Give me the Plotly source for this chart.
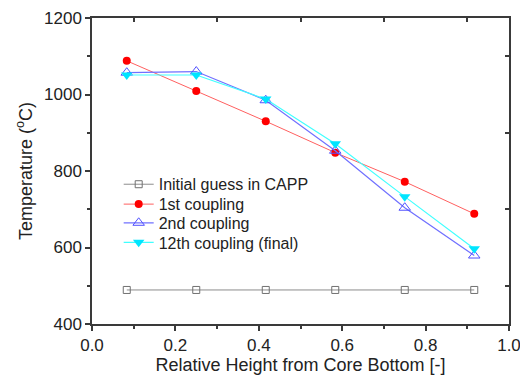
import plotly.graph_objects as go

x_pos = [1/12, 3/12, 5/12, 7/12, 9/12, 11/12]
initial_guess = [489, 489, 489, 489, 489, 489]
coupling_1st = [1088, 1009, 930, 848, 772, 688]
coupling_2nd = [1057, 1060, 985, 853, 704, 579]
coupling_12th = [1051, 1051, 988, 871, 733, 597]

names = ["Initial guess in CAPP", "1st coupling", "2nd coupling", "12th coupling (final)"]

FONT = "Liberation Sans, Arial, sans-serif"
AX = "#3a3a3a"

fig = go.Figure()
fig.add_trace(go.Scatter(x=x_pos, y=initial_guess, mode="lines+markers", name=names[0], legend="legend",
                         line=dict(color="#8c8c8c", width=1),
                         marker=dict(symbol="square-open", size=7, color="#707070", line=dict(width=1))))
fig.add_trace(go.Scatter(x=x_pos, y=coupling_1st, mode="lines+markers", name=names[1], legend="legend2",
                         line=dict(color="#ff6060", width=1),
                         marker=dict(symbol="circle", size=8, color="#ff0000")))
fig.add_trace(go.Scatter(x=x_pos, y=coupling_2nd, mode="lines+markers", name=names[2], legend="legend3",
                         line=dict(color="#7070ff", width=1.2),
                         marker=dict(symbol="triangle-up-open", size=10, color="#5050ff", line=dict(width=1))))
fig.add_trace(go.Scatter(x=x_pos, y=coupling_12th, mode="lines+markers", name=names[3], legend="legend4",
                         line=dict(color="#40ffff", width=1.2),
                         marker=dict(symbol="triangle-down", size=10, color="#00e5ff")))

# invisible trace for mirrored axes
fig.add_trace(go.Scatter(x=[0, 1], y=[400, 1200], xaxis="x2", yaxis="y2", mode="markers",
                         marker=dict(opacity=0), showlegend=False, hoverinfo="skip"))

def leg(y):
    return dict(x=0.064, y=y, xanchor="left", yanchor="top",
                bgcolor="rgba(0,0,0,0)", font=dict(size=16, color="#222"), itemwidth=30)

fig.update_layout(
    width=520, height=371,
    margin=dict(l=84, r=19, t=10, b=55),
    paper_bgcolor="white", plot_bgcolor="white",
    font=dict(family=FONT, size=17, color="#222"),
    showlegend=True,
    legend=leg(0.512), legend2=leg(0.447), legend3=leg(0.386), legend4=leg(0.322),
    xaxis=dict(range=[0, 1], tickvals=[0, 0.2, 0.4, 0.6, 0.8, 1.0],
               ticktext=["0.0", "0.2", "0.4", "0.6", "0.8", "1.0"], automargin=False,
               showgrid=False, zeroline=False, showline=True, linecolor=AX, linewidth=1.5,
               mirror=True, ticks="outside", ticklen=5, tickwidth=1.5, tickcolor=AX,
               minor=dict(tickvals=[0.1, 0.3, 0.5, 0.7, 0.9], ticks="outside", ticklen=3,
                          tickwidth=1.5, tickcolor=AX),
               title=dict(text="Relative Height from Core Bottom [-]", standoff=4,
                          font=dict(size=18)),
               tickfont=dict(size=17)),
    yaxis=dict(range=[400, 1200], tickvals=[400, 600, 800, 1000, 1200], automargin=False,
               showgrid=False, zeroline=False, showline=True, linecolor=AX, linewidth=1.5,
               mirror=True, ticks="outside", ticklen=5, tickwidth=1.5, tickcolor=AX,
               minor=dict(tickvals=[500, 700, 900, 1100], ticks="outside", ticklen=3,
                          tickwidth=1.5, tickcolor=AX),
               title=dict(text="Temperature (<sup>o</sup>C)", standoff=7, font=dict(size=18)),
               tickfont=dict(size=17)),
    xaxis2=dict(range=[0, 1], overlaying="x", side="top", showgrid=False, zeroline=False,
                tickvals=[0.1, 0.3, 0.5, 0.7, 0.9], showticklabels=False, automargin=False,
                ticks="inside", ticklen=4, tickwidth=1.5, tickcolor=AX, showline=False),
    yaxis2=dict(range=[400, 1200], overlaying="y", side="right", showgrid=False, zeroline=False,
                tickvals=[500, 700, 900, 1100], showticklabels=False, automargin=False,
                ticks="inside", ticklen=4, tickwidth=1.5, tickcolor=AX, showline=False),
)

fig.write_html("out.html")
